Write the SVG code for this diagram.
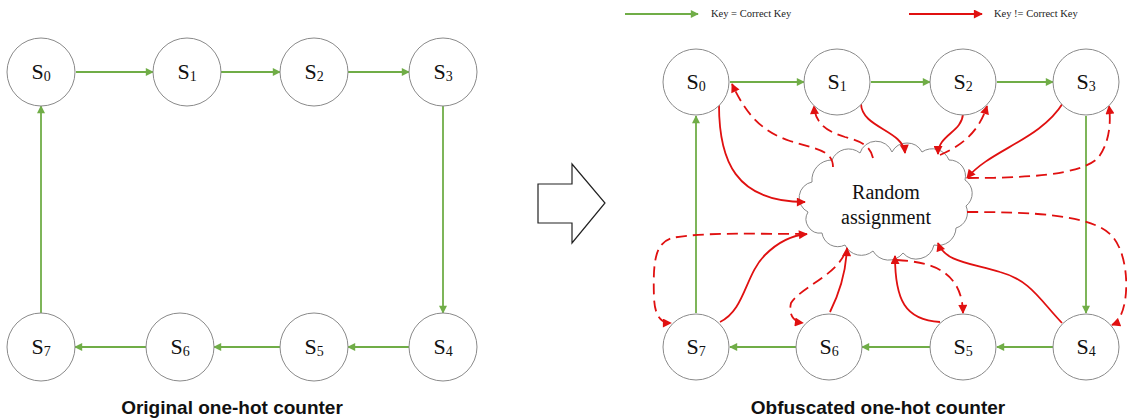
<svg xmlns="http://www.w3.org/2000/svg" width="1127" height="420" viewBox="0 0 1127 420">
  <style>
    .node circle { fill: #fff; stroke: #8a8a8a; stroke-width: 1; }
    .lbl { font-family: "Liberation Serif", "Times New Roman", serif; font-size: 22px; fill: #111; text-anchor: middle; }
    .sub { font-size: 14px; }
    .title { font-family: "Liberation Sans", Arial, sans-serif; font-size: 19px; font-weight: bold; fill: #111; text-anchor: middle; }
    .legend { font-family: "Liberation Serif", "Times New Roman", serif; font-size: 10.5px; fill: #222; }
    .g { stroke: #70AD47; stroke-width: 1.8; fill: none; marker-end: url(#ag); }
    .r { stroke: #E01010; stroke-width: 1.8; fill: none; marker-end: url(#ar); }
    .rd { stroke: #E01010; stroke-width: 1.8; fill: none; stroke-dasharray: 11 6; marker-end: url(#ar); }
    .cloudtxt { font-family: "Liberation Serif", "Times New Roman", serif; font-size: 20px; fill: #111; text-anchor: middle; }
  </style>
  <defs>
    <marker id="ag" viewBox="0 0 10 10" refX="9" refY="5" markerWidth="9" markerHeight="8" markerUnits="userSpaceOnUse" orient="auto">
      <path d="M0,0 L10,5 L0,10 Z" fill="#70AD47"/>
    </marker>
    <marker id="ar" viewBox="0 0 10 10" refX="9" refY="5" markerWidth="10" markerHeight="9" markerUnits="userSpaceOnUse" orient="auto">
      <path d="M0,0 L10,5 L0,10 Z" fill="#E01010"/>
    </marker>
  </defs>

  <rect width="1127" height="420" fill="#fff"/>

  <!-- legend -->
  <g id="legend">
    <line x1="625" y1="14" x2="698" y2="14" class="g"/>
    <text x="711" y="17" class="legend">Key = Correct Key</text>
    <line x1="909" y1="14" x2="982" y2="14" class="r"/>
    <text x="994" y="17" class="legend">Key != Correct Key</text>
  </g>

  <!-- connectors: original counter -->
  <g id="connectors-original">
    <line x1="76" y1="72" x2="153" y2="72" class="g"/>
    <line x1="221" y1="72" x2="280" y2="72" class="g"/>
    <line x1="348" y1="72" x2="409" y2="72" class="g"/>
    <line x1="443" y1="106" x2="443" y2="313" class="g"/>
    <line x1="409" y1="347" x2="348" y2="347" class="g"/>
    <line x1="280" y1="347" x2="214" y2="347" class="g"/>
    <line x1="146" y1="347" x2="75" y2="347" class="g"/>
    <line x1="41" y1="313" x2="41" y2="106" class="g"/>
  </g>

  <!-- nodes: original counter -->
  <g id="orig-s0" class="node"><circle cx="41" cy="72" r="34"/><text x="41" y="79" class="lbl">S<tspan class="sub" dy="2">0</tspan></text></g>
  <g id="orig-s1" class="node"><circle cx="187" cy="72" r="34"/><text x="187" y="79" class="lbl">S<tspan class="sub" dy="2">1</tspan></text></g>
  <g id="orig-s2" class="node"><circle cx="314" cy="72" r="34"/><text x="314" y="79" class="lbl">S<tspan class="sub" dy="2">2</tspan></text></g>
  <g id="orig-s3" class="node"><circle cx="443" cy="72" r="34"/><text x="443" y="79" class="lbl">S<tspan class="sub" dy="2">3</tspan></text></g>
  <g id="orig-s4" class="node"><circle cx="443" cy="347" r="34"/><text x="443" y="354" class="lbl">S<tspan class="sub" dy="2">4</tspan></text></g>
  <g id="orig-s5" class="node"><circle cx="314" cy="347" r="34"/><text x="314" y="354" class="lbl">S<tspan class="sub" dy="2">5</tspan></text></g>
  <g id="orig-s6" class="node"><circle cx="180" cy="347" r="34"/><text x="180" y="354" class="lbl">S<tspan class="sub" dy="2">6</tspan></text></g>
  <g id="orig-s7" class="node"><circle cx="41" cy="347" r="34"/><text x="41" y="354" class="lbl">S<tspan class="sub" dy="2">7</tspan></text></g>

  <text x="232" y="414" class="title">Original one-hot counter</text>

  <!-- transformation arrow -->
  <g id="transform-arrow">
    <path d="M538,184 L572,184 L572,164 L605,203 L572,243 L572,223 L538,223 Z" fill="#fff" stroke="#222" stroke-width="1.2"/>
  </g>

  <!-- cloud -->
  <g id="cloud">
    <path d="M808,212 A16,16 0 0 1 812,182 A20,20 0 0 1 832,160 A18,18 0 0 1 860,153 A17,17 0 0 1 892,152 A17,17 0 0 1 922,152 A18,18 0 0 1 949,160 A16,16 0 0 1 965,180 A16,16 0 0 1 966,206 A16,16 0 0 1 956,228 A18,18 0 0 1 934,245 A18,18 0 0 1 903,253 A18,18 0 0 1 873,251 A18,18 0 0 1 845,245 A16,16 0 0 1 822,233 A14,14 0 0 1 808,212 Z" fill="#fff" stroke="#888" stroke-width="1"/>
    <text x="886" y="199" class="cloudtxt">Random</text>
    <text x="886" y="224" class="cloudtxt">assignment</text>
  </g>

  <!-- connectors: obfuscated counter -->
  <g id="connectors-obfuscated">
    <!-- correct-key transitions -->
    <line x1="730" y1="82" x2="804" y2="82" class="g"/>
    <line x1="871" y1="82" x2="930" y2="82" class="g"/>
    <line x1="997" y1="82" x2="1053" y2="82" class="g"/>
    <line x1="1086" y1="116" x2="1086" y2="313" class="g"/>
    <line x1="1053" y1="347" x2="997" y2="347" class="g"/>
    <line x1="930" y1="347" x2="862" y2="347" class="g"/>
    <line x1="796" y1="347" x2="730" y2="347" class="g"/>
    <line x1="696" y1="313" x2="696" y2="116" class="g"/>

    <!-- wrong-key transitions into the random block -->
    <path d="M719,105 C719,160 735,202 805,202" class="r"/>
    <path d="M861,104 C862,128 903,130 905,153" class="r"/>
    <path d="M963,114 C962,132 938,135 938,154" class="r"/>
    <path d="M1063,103 C1040,140 990,150 967,178" class="r"/>
    <path d="M1062,323 C1040,300 1030,280 1000,272 C970,263 945,262 938,243" class="r"/>
    <path d="M940,322 C905,320 895,300 895,256" class="r"/>
    <path d="M830,312 C840,292 846,272 847,248" class="r"/>
    <path d="M720,322 C745,310 745,275 765,255 C780,240 795,235 807,234" class="r"/>

    <!-- random block back to states -->
    <path d="M833,167 C833,150 815,149 790,141 C760,131 745,112 732,84" class="rd"/>
    <path d="M873,158 C870,145 860,141 845,137 C825,131 815,122 814,106" class="rd"/>
    <path d="M940,155 C958,147 978,135 987,106" class="rd"/>
    <path d="M968,178 C1020,178 1080,176 1098,158 C1110,142 1111,122 1109,106" class="rd"/>
    <path d="M967,212 C1030,212 1092,214 1112,236 C1132,258 1130,318 1112,325" class="rd"/>
    <path d="M897,260 C930,262 962,270 963,313" class="rd"/>
    <path d="M845,253 C835,276 800,288 791,303 C788,316 795,322 803,323" class="rd"/>
    <path d="M806,234 C760,234 700,232 672,238 C654,243 653,265 654,298 C655,318 662,323 671,323" class="rd"/>
  </g>

  <!-- nodes: obfuscated counter -->
  <g id="obf-s0" class="node"><circle cx="696" cy="82" r="33"/><text x="696" y="89" class="lbl">S<tspan class="sub" dy="2">0</tspan></text></g>
  <g id="obf-s1" class="node"><circle cx="837" cy="82" r="33"/><text x="837" y="89" class="lbl">S<tspan class="sub" dy="2">1</tspan></text></g>
  <g id="obf-s2" class="node"><circle cx="963" cy="82" r="33"/><text x="963" y="89" class="lbl">S<tspan class="sub" dy="2">2</tspan></text></g>
  <g id="obf-s3" class="node"><circle cx="1086" cy="82" r="33"/><text x="1086" y="89" class="lbl">S<tspan class="sub" dy="2">3</tspan></text></g>
  <g id="obf-s4" class="node"><circle cx="1086" cy="347" r="33"/><text x="1086" y="354" class="lbl">S<tspan class="sub" dy="2">4</tspan></text></g>
  <g id="obf-s5" class="node"><circle cx="963" cy="347" r="33"/><text x="963" y="354" class="lbl">S<tspan class="sub" dy="2">5</tspan></text></g>
  <g id="obf-s6" class="node"><circle cx="829" cy="347" r="33"/><text x="829" y="354" class="lbl">S<tspan class="sub" dy="2">6</tspan></text></g>
  <g id="obf-s7" class="node"><circle cx="696" cy="347" r="33"/><text x="696" y="354" class="lbl">S<tspan class="sub" dy="2">7</tspan></text></g>

  <text x="878" y="414" class="title">Obfuscated one-hot counter</text>
</svg>
